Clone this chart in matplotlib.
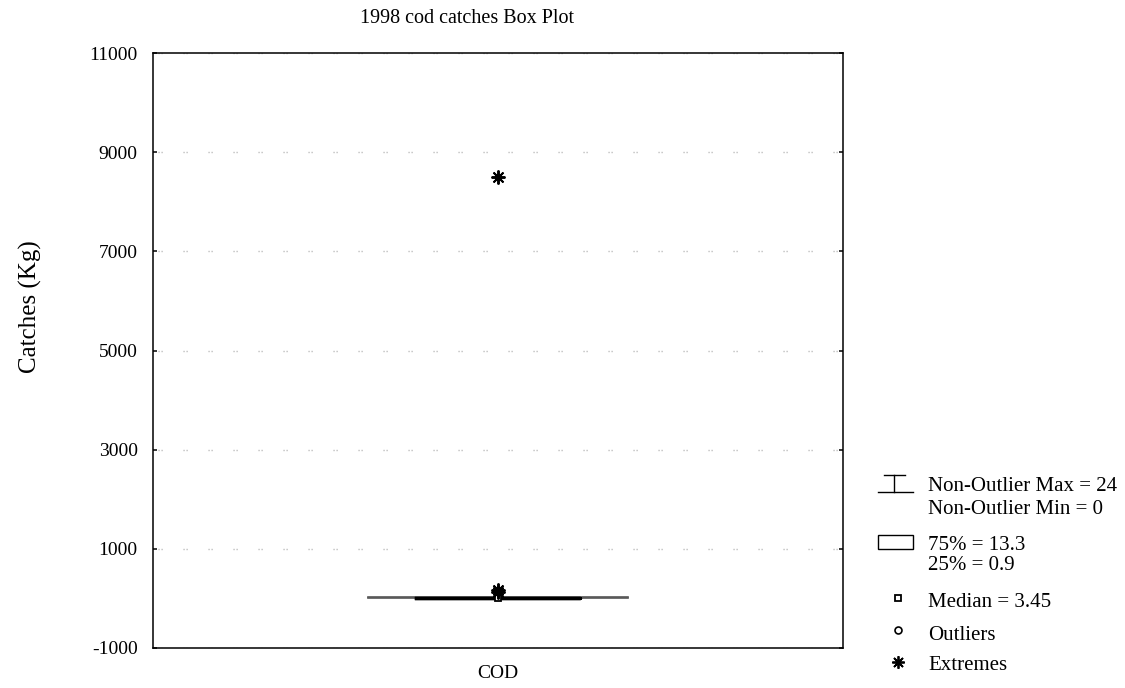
import numpy as np
import matplotlib.pyplot as plt
from matplotlib.lines import Line2D
from matplotlib.patches import Rectangle

# box plot summary for 1998 cod catches (kg)
category = "COD"
non_outlier_max = 24
non_outlier_min = 0
q75 = 13.3
q25 = 0.9
median = 3.45
outliers = []
extremes = [8500, 175, 120]

yticks = [-1000, 1000, 3000, 5000, 7000, 9000, 11000]

plt.rcParams['font.family'] = ['Liberation Serif', 'DejaVu Serif']
plt.rcParams['axes.unicode_minus'] = False

W, H = 1125, 688
fig = plt.figure(figsize=(W / 100, H / 100), dpi=100)
ax = fig.add_axes([153 / W, 1 - 648 / H, 690 / W, 595 / H])

stats = [dict(med=median, q1=q25, q3=q75, whislo=non_outlier_min,
              whishi=non_outlier_max, fliers=[], label=category)]
ax.bxp(stats, positions=[0], widths=0.239, capwidths=0.378, showfliers=False,
       boxprops=dict(color='black', linewidth=2.4, zorder=2.2),
       whiskerprops=dict(color='black', linewidth=1, zorder=2.1),
       capprops=dict(color='#555555', linewidth=1.2, zorder=1.9),
       medianprops=dict(linewidth=0))
ax.plot([0], [median], marker='s', ms=5, mfc='white', mec='black', mew=1.3,
        zorder=3)
ax.plot(np.zeros(len(extremes)), extremes, ls='none', marker=(8, 2, 0),
        ms=10, mec='black', mew=1.4, zorder=3)
if outliers:
    ax.plot(np.zeros(len(outliers)), outliers, ls='none', marker='o',
            ms=5, mfc='white', mec='black', zorder=3)

ax.set_xlim(-0.5, 0.5)
ax.set_ylim(-1000, 11000)
ax.set_yticks(yticks)
ax.set_xticks([0])
ax.set_xticklabels([category])
ax.tick_params(axis='y', direction='in', length=3, width=1.1, right=True,
               labelsize=14, pad=11)
ax.tick_params(axis='x', length=0, labelsize=14, pad=12)
ax.yaxis.grid(True, color='#b0b0b0', linestyle=(14.4, (0.8, 1.4, 0.8, 15)),
              linewidth=1)
for s in ax.spines.values():
    s.set_linewidth(1.1)

fig.text(30 / W, 1 - 307 / H, 'Catches (Kg)', rotation=90, ha='center',
         va='center', fontsize=18)
fig.text(467 / W, 1 - 23 / H, '1998 cod catches Box Plot', ha='center',
         va='baseline', fontsize=14.5)

# legend drawn on the figure in pixel positions
fs = 15
tx = 928 / W


def fx(px):
    return px / W


def fy(py):
    return 1 - py / H


def label(py, s):
    fig.text(tx, fy(py + 7), s, va='baseline', fontsize=fs)


fig.add_artist(Line2D([fx(884), fx(905)], [fy(475), fy(475)], color='black', lw=1))
fig.add_artist(Line2D([fx(878), fx(913)], [fy(492), fy(492)], color='black', lw=1))
fig.add_artist(Line2D([fx(894), fx(894)], [fy(475), fy(492)], color='black', lw=1))
label(484, f'Non-Outlier Max = {non_outlier_max}')
label(507, f'Non-Outlier Min = {non_outlier_min}')

fig.add_artist(Rectangle((fx(878), fy(549)), 35 / W, 14 / H, fill=False,
                         edgecolor='black', lw=1, transform=fig.transFigure))
label(543, f'75% = {q75}')
label(563, f'25% = {q25}')

fig.add_artist(Line2D([fx(898)], [fy(598)], marker='s', ms=5, mfc='white',
                      mec='black', mew=1.3, ls='none'))
label(600, f'Median = {median}')
fig.add_artist(Line2D([fx(898)], [fy(630)], marker='o', ms=5, mfc='white',
                      mec='black', mew=1.2, ls='none'))
label(633, 'Outliers')
fig.add_artist(Line2D([fx(898)], [fy(662)], marker=(8, 2, 0), ms=9,
                      mec='black', mew=1.3, ls='none'))
label(663, 'Extremes')

plt.savefig('out.png', dpi=100)
